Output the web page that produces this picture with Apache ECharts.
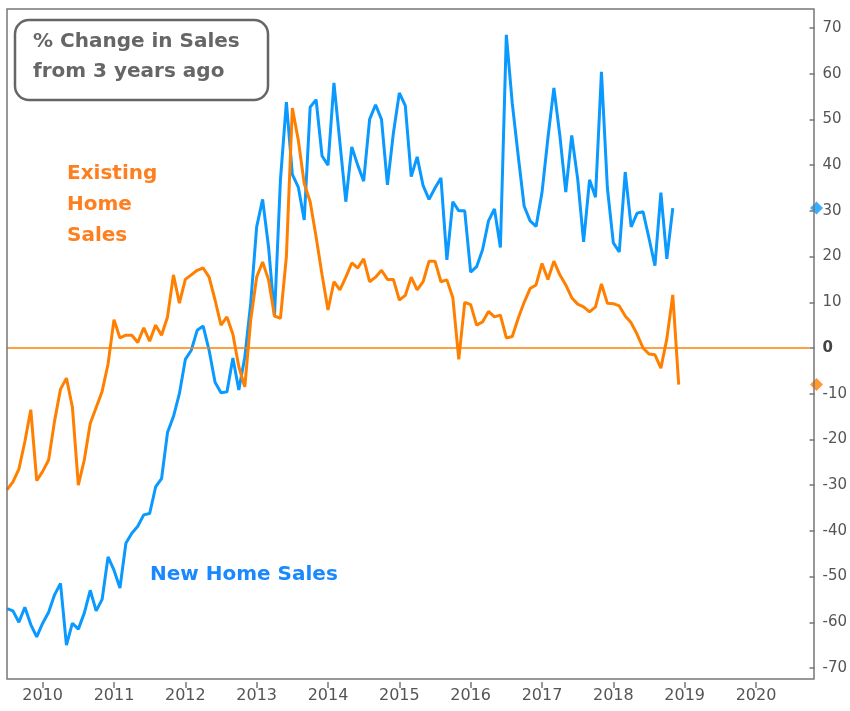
<!DOCTYPE html>
<html>
<head>
<meta charset="utf-8">
<script src="https://cdn.jsdelivr.net/npm/echarts@6/dist/echarts.min.js"></script>
<style>
  html, body { margin: 0; padding: 0; background: #fff; }
  #chart { width: 850px; height: 711px; }
</style>
</head>
<body>
<div id="chart"></div>
<script>
// monthly axis, Jul 2009 .. Oct 2020
const startYear = 2009
const startMonth = 7
const endYear = 2020
const endMonth = 10

const months = []
for (let y = startYear, m = startMonth; y < endYear || (y === endYear && m <= endMonth);) {
  months.push(y + '-' + (m < 10 ? '0' + m : m))
  m++
  if (m > 12) { m = 1; y++ }
}

// % change from 3 years ago, from Jul 2009
const existingHomeSales = [
  -31, -29.3, -26.5, -20.5, -13.5, -29, -27, -24.5, -16, -9,
  -6.6, -12.9, -30, -24.5, -16.5, -13, -9.5, -3.5, 6.2, 2.2,
  2.8, 2.8, 1.2, 4.4, 1.5, 5, 2.8, 6.8, 16, 9.8,
  15, 16, 17, 17.5, 15.5, 10.5, 5, 6.8, 3, -4.1,
  -8.5, 6.1, 15.5, 18.8, 14.9, 7, 6.5, 20, 52.5, 45.5,
  36, 32, 24.3, 16, 8.3, 14.5, 12.7, 15.5, 18.6, 17.5,
  19.5, 14.5, 15.5, 17, 15, 15, 10.5, 11.5, 15.5, 12.7,
  14.5, 19, 19, 14.5, 14.9, 11, -2.5, 10, 9.5, 5,
  5.7, 8, 6.8, 7.2, 2.2, 2.5, 6.5, 10, 13, 13.8,
  18.5, 15, 19, 16, 13.8, 11, 9.6, 9, 7.9, 9,
  14, 9.8, 9.7, 9.2, 7, 5.5, 3, 0, -1.3, -1.5,
  -4.4, 2, 11.6, -8
]

const newHomeSales = [
  -57, -57.5, -60, -56.7, -60.5, -63.2, -60.2, -57.8, -54, -51.5,
  -65, -60.2, -61.5, -58, -53, -57.5, -55, -45.7, -48.6, -52.5,
  -42.7, -40.5, -39, -36.5, -36.2, -30.4, -28.6, -18.5, -15, -10,
  -2.5, -0.5, 3.9, 4.8, -0.5, -7.5, -9.8, -9.6, -2.2, -9.2,
  -2, 9.8, 26.5, 32.5, 22.1, 7, 36.8, 53.8, 38, 35.2,
  28, 52.7, 54.3, 42, 40, 58, 45, 32, 44, 40,
  36.5, 50, 53.2, 50, 35.7, 47, 55.8, 53, 37.5, 41.8,
  35.5, 32.5, 35, 37.2, 19.3, 32, 30, 30, 16.6, 17.8,
  21.5, 27.8, 30.4, 22, 68.5, 53.5, 42, 31, 27.8, 26.6,
  34, 46, 56.9, 46.5, 34.1, 46.5, 37, 23.2, 36.8, 33,
  60.4, 35, 23, 21, 38.5, 26.5, 29.5, 29.8, 24, 18,
  34, 19.5, 30.6
]

const yMin = -70
const yMax = 70
const yStep = 10

const blue = '#0a99ff'
const orange = '#ff8000'
const grey = '#666'
const font = 'DejaVu Sans'

const isJanuary = (index, value) => value.slice(5) === '01'

const chart = echarts.init(document.getElementById('chart'))
chart.setOption({
  animation: false,
  grid: {
    left: 7,
    right: 36,
    top: 28,
    bottom: 43
  },
  xAxis: {
    type: 'category',
    data: months,
    boundaryGap: false,
    offset: 14,
    axisLine: { show: false, onZero: false },
    axisTick: {
      interval: isJanuary,
      length: 6,
      lineStyle: { color: '#777', width: 1.5 }
    },
    axisLabel: {
      interval: isJanuary,
      formatter: v => v.slice(0, 4),
      color: '#555',
      fontFamily: font,
      fontSize: 16,
      margin: 6
    },
    splitLine: { show: false }
  },
  yAxis: {
    type: 'value',
    position: 'right',
    min: yMin,
    max: yMax,
    interval: yStep,
    axisLine: { show: false },
    axisTick: {
      show: true,
      length: 5,
      lineStyle: { color: '#777', width: 1.5 }
    },
    axisLabel: {
      color: '#555',
      fontFamily: font,
      fontSize: 15,
      margin: 13,
      formatter: v => v === 0 ? '{b|0}' : String(v),
      rich: {
        b: { fontWeight: 'bold', color: '#444', fontFamily: font, fontSize: 15 }
      }
    },
    splitLine: { show: false }
  },
  series: [
    {
      name: 'New Home Sales',
      type: 'line',
      data: newHomeSales,
      showSymbol: false,
      lineStyle: { color: blue, width: 3 },
      itemStyle: { color: blue }
    },
    {
      name: 'Existing Home Sales',
      type: 'line',
      data: existingHomeSales,
      showSymbol: false,
      lineStyle: { color: orange, width: 3 },
      itemStyle: { color: orange },
      markLine: {
        silent: true,
        symbol: 'none',
        label: { show: false },
        lineStyle: { color: orange, width: 1.5, type: 'solid' },
        data: [{ yAxis: 0 }]
      }
    },
    {
      type: 'scatter',
      clip: false,
      symbol: 'diamond',
      symbolSize: 13,
      symbolOffset: [7, 0],
      z: 5,
      data: [
        { value: [months[months.length - 1], newHomeSales[newHomeSales.length - 1]], itemStyle: { color: blue } },
        { value: [months[months.length - 1], existingHomeSales[existingHomeSales.length - 1]], itemStyle: { color: orange } }
      ]
    }
  ],
  graphic: [
    {
      type: 'rect',
      shape: { x: 7, y: 9, width: 807, height: 670 },
      style: { fill: 'none', stroke: '#777', lineWidth: 1.5 },
      silent: true,
      z: 10
    },
    {
      type: 'rect',
      shape: { x: 15, y: 20, width: 253, height: 80, r: 14 },
      style: { fill: '#fff', stroke: grey, lineWidth: 2.5 },
      z: 10
    },
    {
      type: 'text',
      style: {
        x: 33, y: 27,
        text: '% Change in Sales\nfrom 3 years ago',
        font: 'bold 20px ' + font,
        lineHeight: 30,
        fill: grey,
        verticalAlign: 'top'
      },
      z: 11
    },
    {
      type: 'text',
      style: {
        x: 67, y: 158,
        text: 'Existing\nHome\nSales',
        font: 'bold 20px ' + font,
        lineHeight: 31,
        fill: '#ff7f1e',
        verticalAlign: 'top'
      },
      z: 11
    },
    {
      type: 'text',
      style: {
        x: 150, y: 575,
        text: 'New Home Sales',
        font: 'bold 20px ' + font,
        fill: '#1a88ff',
        verticalAlign: 'middle'
      },
      z: 11
    }
  ]
})
</script>
</body>
</html>
